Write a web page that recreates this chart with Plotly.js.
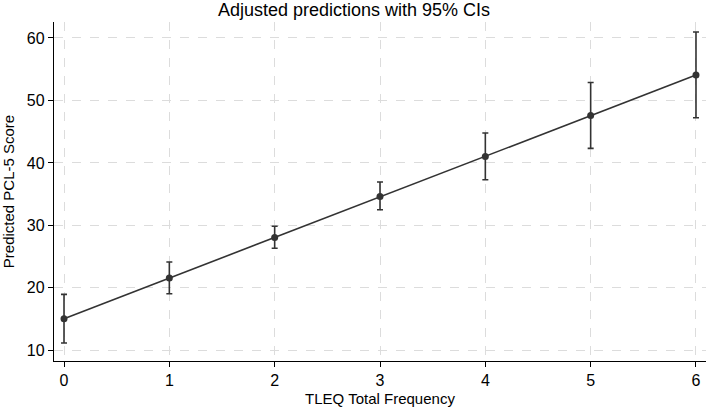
<!DOCTYPE html>
<html>
<head>
<meta charset="utf-8">
<script src="https://cdn.plot.ly/plotly-3.0.1.min.js"></script>
<style>html,body{margin:0;padding:0;background:#fff;}</style>
</head>
<body>
<div id="chart" style="width:708px;height:408px;"></div>
<script>
const tleq = [0, 1, 2, 3, 4, 5, 6];
const predicted = [15.07, 21.58, 28.08, 34.64, 41.04, 47.60, 54.06];
const ciUpper = [18.96, 24.14, 29.86, 36.94, 44.78, 52.88, 60.94];
const ciLower = [11.18, 19.07, 26.34, 32.50, 37.31, 42.32, 47.23];
const yTicks = [10, 20, 30, 40, 50, 60];

const errPlus = ciUpper.map((u, i) => u - predicted[i]);
const errMinus = predicted.map((p, i) => p - ciLower[i]);

const font = "Liberation Sans, Arial, Helvetica, sans-serif";

Plotly.newPlot('chart', [{
  x: tleq,
  y: predicted,
  type: 'scatter',
  mode: 'lines+markers',
  line: {color: '#333333', width: 1.6},
  marker: {color: '#333333', size: 7},
  error_y: {
    type: 'data', symmetric: false,
    array: errPlus, arrayminus: errMinus,
    color: '#333333', thickness: 1.6, width: 3
  },
  showlegend: false,
  hoverinfo: 'skip'
}], {
  width: 708, height: 408,
  margin: {l: 54, r: 2, t: 22, b: 47},
  paper_bgcolor: '#fff', plot_bgcolor: '#fff',
  title: {text: 'Adjusted predictions with 95% CIs', font: {family: font, size: 18, color: '#000'}, x: 0.5, xanchor: 'center', y: 0.976, yanchor: 'middle'},
  xaxis: {
    range: [-0.095, 6.095],
    tickvals: tleq,
    ticks: 'outside', ticklen: 5, tickcolor: '#000', tickwidth: 1,
    showline: true, linecolor: '#000', linewidth: 1.2,
    showgrid: true, gridcolor: '#dcdcdc', griddash: 'dash', gridwidth: 1,
    zeroline: false,
    tickfont: {family: font, size: 16, color: '#000'},
    title: {text: 'TLEQ Total Frequency', font: {family: font, size: 15, color: '#000'}, standoff: 5}
  },
  yaxis: {
    range: [8.3, 62.55],
    tickvals: yTicks,
    ticks: 'outside', ticklen: 5, tickcolor: '#000', tickwidth: 1,
    showline: true, linecolor: '#000', linewidth: 1.2,
    showgrid: true, gridcolor: '#dcdcdc', griddash: 'dash', gridwidth: 1,
    zeroline: false,
    tickfont: {family: font, size: 16, color: '#000'},
    title: {text: 'Predicted PCL-5 Score', font: {family: font, size: 15, color: '#000'}, standoff: 10}
  }
}, {displayModeBar: false, staticPlot: true});
</script>
</body>
</html>
